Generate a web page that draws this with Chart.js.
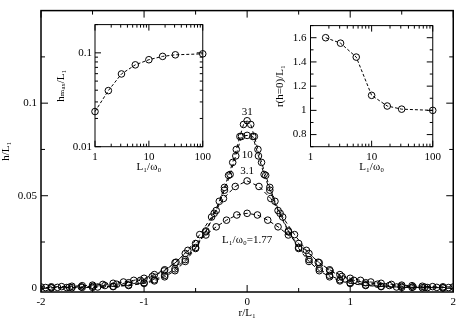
<!DOCTYPE html>
<html><head><meta charset="utf-8">
<script src="https://cdn.jsdelivr.net/npm/chart.js@4/dist/chart.umd.min.js"></script>
<style>
body{margin:0;background:#fff}
#wrap{position:relative;width:460px;height:323px;background:#fff}
canvas{position:absolute}
</style>
</head><body>
<div id="wrap">
<canvas id="main" width="460" height="323" style="left:0;top:0"></canvas>
<canvas id="inL" width="165" height="165" style="left:50px;top:15px"></canvas>
<canvas id="inR" width="185" height="165" style="left:260px;top:15px"></canvas>
</div>
<script>
// ---------- main plot data ----------
const r177 = [-2,-1.9,-1.8,-1.7,-1.6,-1.5,-1.4,-1.3,-1.2,-1.1,-1,-0.9,-0.8,-0.7,-0.6,-0.5,-0.4,-0.3,-0.2,-0.1,0,0.1,0.2,0.3,0.4,0.5,0.6,0.7,0.8,0.9,1,1.1,1.2,1.3,1.4,1.5,1.6,1.7,1.8,1.9,2];
const h177 = [0.0007,0.0008,0.0009,0.0011,0.0014,0.0017,0.0021,0.0027,0.0034,0.0043,0.0054,0.0074,0.0100,0.0138,0.0188,0.0242,0.0288,0.0332,0.0368,0.0396,0.0405,0.0396,0.0368,0.0332,0.0288,0.0242,0.0188,0.0138,0.0100,0.0074,0.0054,0.0043,0.0034,0.0027,0.0021,0.0017,0.0014,0.0011,0.0009,0.0008,0.0007];

const r31a = [-1.955,-1.84,-1.725,-1.61,-1.495,-1.38,-1.265,-1.15,-1.035,-0.92,-0.805,-0.69,-0.575,-0.46,-0.345,-0.23,-0.115,0,0.115,0.23,0.345,0.46,0.575,0.69,0.805,0.92,1.035,1.15,1.265,1.38,1.495,1.61,1.725,1.84,1.955];
const h31a = [0.0004,0.0005,0.0006,0.0008,0.0011,0.0015,0.0022,0.0030,0.0043,0.0064,0.0094,0.0141,0.0205,0.0290,0.0385,0.0485,0.0550,0.0580,0.0550,0.0485,0.0385,0.0290,0.0205,0.0141,0.0094,0.0064,0.0043,0.0030,0.0022,0.0015,0.0011,0.0008,0.0006,0.0005,0.0004];

const r10 = [-1.9,-1.75,-1.6,-1.45,-1.3,-1.15,-1,-0.9,-0.8,-0.7,-0.6,-0.5,-0.4,-0.3,-0.22,-0.165,-0.11,-0.055,0,0.055,0.11,0.165,0.22,0.3,0.4,0.5,0.6,0.7,0.8,0.9,1,1.15,1.3,1.45,1.6,1.75,1.9];
const h10 = [0.0003,0.0004,0.0005,0.0007,0.0011,0.0018,0.0030,0.0046,0.0070,0.0105,0.0155,0.0220,0.0305,0.0420,0.0530,0.0615,0.0715,0.0820,0.0826,0.0820,0.0715,0.0615,0.0530,0.0420,0.0305,0.0220,0.0155,0.0105,0.0070,0.0046,0.0030,0.0018,0.0011,0.0007,0.0005,0.0004,0.0003];

const r31 = [-1.9,-1.7,-1.5,-1.3,-1.15,-1,-0.9,-0.8,-0.7,-0.6,-0.5,-0.4,-0.32,-0.27,-0.22,-0.18,-0.14,-0.105,-0.07,-0.035,0,0.035,0.07,0.105,0.14,0.18,0.22,0.27,0.32,0.4,0.5,0.6,0.7,0.8,0.9,1,1.15,1.3,1.5,1.7,1.9];
const h31 = [0.0002,0.0003,0.0005,0.0009,0.0015,0.0026,0.0040,0.0062,0.0095,0.0145,0.0215,0.0310,0.0405,0.0470,0.0545,0.0610,0.0680,0.0750,0.0820,0.0885,0.0905,0.0885,0.0820,0.0750,0.0680,0.0610,0.0545,0.0470,0.0405,0.0310,0.0215,0.0145,0.0095,0.0062,0.0040,0.0026,0.0015,0.0009,0.0005,0.0003,0.0002];

const mainXTicks = [-2,-1,0,1,2];
const mainXMinor = [-1.5,-0.5,0.5,1.5];
const mainYTicks = [0,0.05,0.1];
const mainYMinor = [0.025,0.075,0.125];
const curveLabels = ['31','10','3.1','L₁/ω₀=1.77'];

// ---------- inset data ----------
const insetL = [1,1.77,3.1,5.6,10,18,31,100];
const insetHmax = [0.0237,0.0396,0.0596,0.0745,0.0845,0.0917,0.0953,0.0976];
const insetLr = [1.77,3.1,5.6,10,18,31,100];
const insetRzero = [1.60,1.555,1.44,1.124,1.036,1.01,1.0];
const logTicks = [1,10,100];
const logMinor = [2,3,4,5,6,7,8,9,20,30,40,50,60,70,80,90];
const hmaxTicks = [0.01,0.1];
const hmaxMinor = [0.02,0.03,0.04,0.05,0.06,0.07,0.08,0.09,0.2];
const rzTicks = [0.8,1,1.2,1.4,1.6];
const rzMinor = [0.7,0.9,1.1,1.3,1.5,1.7];

const FAM = '"Liberation Serif","DejaVu Serif",serif';
const f = s => ({family:FAM, size:s});

const boxTicks = {
  id:'boxTicks',
  afterDatasetsDraw(chart, args, o){
    const {ctx, chartArea:a, scales} = chart;
    const xs = scales.x, ys = scales.y;
    ctx.save();
    ctx.strokeStyle = '#000'; ctx.lineWidth = o.lw; ctx.setLineDash([]);
    ctx.beginPath();
    const xt = (vals,len)=>vals.forEach(v=>{const p=xs.getPixelForValue(v);ctx.moveTo(p,a.bottom);ctx.lineTo(p,a.bottom-len);ctx.moveTo(p,a.top);ctx.lineTo(p,a.top+len);});
    const yt = (vals,len)=>vals.forEach(v=>{const p=ys.getPixelForValue(v);ctx.moveTo(a.left,p);ctx.lineTo(a.left+len,p);ctx.moveTo(a.right,p);ctx.lineTo(a.right-len,p);});
    xt(o.xMajor,o.major); xt(o.xMinor,o.minor); yt(o.yMajor,o.major); yt(o.yMinor,o.minor);
    ctx.stroke();
    ctx.lineWidth = o.blw;
    ctx.strokeRect(a.left, a.top, a.right-a.left, a.bottom-a.top);
    ctx.restore();
  }
};

const labelPlugin = {
  id:'curveText',
  afterDatasetsDraw(chart, args, o){
    if(!o.items) return;
    const {ctx, scales} = chart;
    ctx.save();
    ctx.fillStyle='#000'; ctx.font = '11px '+FAM; ctx.textAlign='center'; ctx.textBaseline='middle';
    o.items.forEach(it=>{
      ctx.fillText(it.text, scales.x.getPixelForValue(it.x), scales.y.getPixelForValue(it.y));
    });
    ctx.restore();
  }
};

const lineStyle = dash => ({
  showLine:true, borderColor:'#000', borderWidth:1, borderDash:dash,
  pointRadius:3.3, pointBorderWidth:1, pointBorderColor:'#000',
  pointBackgroundColor:'rgba(0,0,0,0)', fill:false, tension:0
});
const pts = (xs, ys) => xs.map((x,i)=>({x, y:ys[i]}));
const setTicks = arr => s => { s.ticks = arr.map(v=>({value:v})); };
const lab = v => String(Number(Number(v).toFixed(4)));

new Chart(document.getElementById('main'), {
  type:'scatter',
  data:{datasets:[
    {data:pts(r177,h177), ...lineStyle([4,3])},
    {data:pts(r31a,h31a), ...lineStyle([4,3])},
    {data:pts(r10,h10), ...lineStyle([4,3])},
    {data:pts(r31,h31), ...lineStyle([4,3])}
  ]},
  options:{
    responsive:false, animation:false, devicePixelRatio:1,
    layout:{padding:{top:2,right:5,left:0,bottom:0}},
    plugins:{legend:{display:false}, tooltip:{enabled:false},
      boxTicks:{xMajor:mainXTicks,xMinor:mainXMinor,yMajor:mainYTicks,yMinor:mainYMinor,major:7,minor:4,lw:1,blw:1.5},
      curveText:{items:[
        {text:curveLabels[0],x:0,y:0.0952},
        {text:curveLabels[1],x:0,y:0.0721},
        {text:curveLabels[2],x:0,y:0.0634},
        {text:curveLabels[3],x:0,y:0.0261}
      ]}
    },
    scales:{
      x:{type:'linear',min:-2,max:2,afterBuildTicks:setTicks(mainXTicks),afterFit:s=>{s.height=31;},
         grid:{display:false,drawTicks:false},border:{display:false},
         ticks:{padding:4,color:'#000',font:f(11),autoSkip:false,maxRotation:0,callback:lab},
         title:{display:true,text:'r/L₁',color:'#000',font:f(11),padding:{top:0,bottom:3}}},
      y:{type:'linear',min:-0.002,max:0.15,afterBuildTicks:setTicks(mainYTicks),afterFit:s=>{s.width=41;},
         grid:{display:false,drawTicks:false},border:{display:false},
         ticks:{padding:4,color:'#000',font:f(11),autoSkip:false,callback:lab},
         title:{display:true,text:'h/L₁',color:'#000',font:f(11),padding:{top:0,bottom:0}}}
    }
  },
  plugins:[boxTicks,labelPlugin]
});

new Chart(document.getElementById('inL'), {
  type:'scatter',
  data:{datasets:[{data:pts(insetL,insetHmax), clip:false, ...lineStyle([3,2])}]},
  options:{
    responsive:false, animation:false, devicePixelRatio:1,
    layout:{padding:{top:7.7,right:8.3,left:0,bottom:0}},
    plugins:{legend:{display:false},tooltip:{enabled:false},
      boxTicks:{xMajor:logTicks,xMinor:logMinor,yMajor:hmaxTicks,yMinor:hmaxMinor,major:6,minor:3,lw:1,blw:1}},
    scales:{
      x:{type:'logarithmic',min:1,max:100,afterBuildTicks:setTicks(logTicks),afterFit:s=>{s.height=33.3;},
         grid:{display:false,drawTicks:false},border:{display:false},
         ticks:{padding:4,color:'#000',font:f(11),autoSkip:false,maxRotation:0,callback:lab},
         title:{display:true,text:'L₁/ω₀',color:'#000',font:f(11),padding:{top:0,bottom:6}}},
      y:{type:'logarithmic',min:0.01,max:0.2,afterBuildTicks:setTicks(hmaxTicks),afterFit:s=>{s.width=45;},
         grid:{display:false,drawTicks:false},border:{display:false},
         ticks:{padding:3,color:'#000',font:f(11),autoSkip:false,callback:lab},
         title:{display:true,text:'hₘₐₓ/L₁',color:'#000',font:f(11),padding:{top:5,bottom:0}}}
    }
  },
  plugins:[boxTicks]
});

new Chart(document.getElementById('inR'), {
  type:'scatter',
  data:{datasets:[{data:pts(insetLr,insetRzero), clip:false, ...lineStyle([3,2])}]},
  options:{
    responsive:false, animation:false, devicePixelRatio:1,
    layout:{padding:{top:7.7,right:10,left:0,bottom:0}},
    plugins:{legend:{display:false},tooltip:{enabled:false},
      boxTicks:{xMajor:logTicks,xMinor:logMinor,yMajor:rzTicks,yMinor:rzMinor,major:6,minor:3,lw:1,blw:1}},
    scales:{
      x:{type:'logarithmic',min:1,max:100,afterBuildTicks:setTicks(logTicks),afterFit:s=>{s.height=33.3;},
         grid:{display:false,drawTicks:false},border:{display:false},
         ticks:{padding:4,color:'#000',font:f(11),autoSkip:false,maxRotation:0,callback:lab},
         title:{display:true,text:'L₁/ω₀',color:'#000',font:f(11),padding:{top:0,bottom:6}}},
      y:{type:'linear',min:0.7,max:1.7,afterBuildTicks:setTicks(rzTicks),afterFit:s=>{s.width=50.5;},
         grid:{display:false,drawTicks:false},border:{display:false},
         ticks:{padding:4,color:'#000',font:f(11),autoSkip:false,callback:lab},
         title:{display:true,text:'r(h=0)/L₁',color:'#000',font:f(11),padding:{top:14,bottom:0}}}
    }
  },
  plugins:[boxTicks]
});
</script>
</body></html>
